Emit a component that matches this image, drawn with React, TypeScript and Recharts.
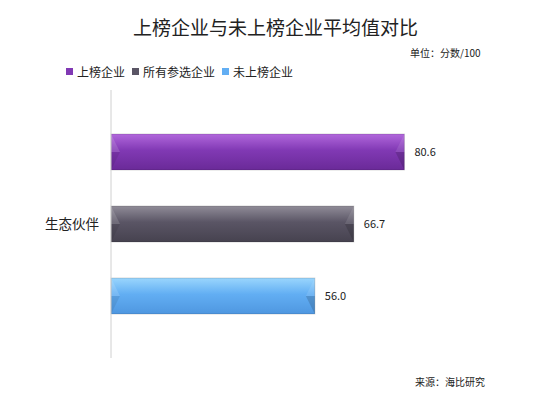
import React from "react";
import { BarChart, Bar, XAxis, YAxis, LabelList } from "recharts";

const categories = ["生态伙伴"];
const listedValues = [80.6];
const allValues = [66.7];
const unlistedValues = [56.0];
const seriesNames = ["上榜企业", "所有参选企业", "未上榜企业"];

const data = categories.map((name, i) => ({
  name,
  listed: listedValues[i],
  all: allValues[i],
  unlisted: unlistedValues[i],
}));

const FONT = '"Noto Sans CJK SC", "Microsoft YaHei", sans-serif';

const palette = [
  { id: "gListed", top: "#b167dc", mid: "#8139b4", bottom: "#6a2a98", key: "listed" },
  { id: "gAll", top: "#908c98", mid: "#5a5565", bottom: "#46424f", key: "all" },
  { id: "gUnlisted", top: "#9ad6fd", mid: "#62aef3", bottom: "#4f97e0", key: "unlisted" },
];

// flat bar with small bevelled ends, like the office 3D preset
const BevelBar = (props: any) => {
  const { x, y, width, height, fillId } = props;
  if (!width || width <= 0) return null;
  const b = Math.min(9, width / 4);
  const cy = y + height / 2;
  return (
    <g>
      <rect x={x} y={y} width={width} height={height} fill={`url(#${fillId})`} />
      <polygon points={`${x},${y} ${x + b},${cy} ${x},${cy}`} fill="#ffffff" opacity={0.14} />
      <polygon points={`${x},${cy} ${x + b},${cy} ${x},${y + height}`} fill="#000000" opacity={0.08} />
      <polygon points={`${x + width},${y} ${x + width - b},${cy} ${x + width},${cy}`} fill="#ffffff" opacity={0.1} />
      <polygon points={`${x + width},${cy} ${x + width - b},${cy} ${x + width},${y + height}`} fill="#000000" opacity={0.15} />
      <rect x={x} y={y} width={width} height={height} fill="none" stroke="#000" strokeOpacity={0.15} />
    </g>
  );
};

const renderTick = ({ y, payload }: any) => (
  <text x={99} y={y} dy={5} textAnchor="end" fill="#222" fontSize={13.5} fontFamily={FONT}>
    {payload?.value}
  </text>
);

const renderLabel = ({ x = 0, y = 0, width = 0, height = 0, value }: any) => (
  <text x={Number(x) + Number(width) + 10} y={Number(y) + Number(height) / 2 + 4} fill="#222" fontSize={11} fontFamily={FONT}>
    {Number(value).toFixed(1)}
  </text>
);

export default function App() {
  return (
    <div style={{ position: "absolute", left: 0, top: 0, width: 551, height: 401, background: "#fff", fontFamily: FONT }}>
      <div style={{ position: "absolute", top: 13, left: 0, width: 551, textAlign: "center", fontSize: 19, color: "#222" }}>
        上榜企业与未上榜企业平均值对比
      </div>
      <div style={{ position: "absolute", top: 45, left: 410, fontSize: 10, color: "#222" }}>单位：分数/100</div>
      <div style={{ position: "absolute", top: 63, left: 66, display: "flex", alignItems: "center", fontSize: 12, color: "#222" }}>
        {seriesNames.map((n, i) => (
          <span key={n} style={{ display: "flex", alignItems: "center", marginRight: 7 }}>
            <span style={{ width: 7, height: 7, background: palette[i].mid, marginRight: 4, display: "inline-block" }} />
            {n}
          </span>
        ))}
      </div>
      <div style={{ position: "absolute", top: 374, left: 415, fontSize: 10, color: "#222" }}>来源：海比研究</div>
      <BarChart
        width={551}
        height={401}
        data={data}
        layout="vertical"
        margin={{ top: 90, right: 76, bottom: 43, left: 0 }}
        barSize={36}
        barGap={36}
        style={{ position: "absolute", left: 0, top: 0 }}
      >
        <defs>
          {palette.map((p) => (
            <linearGradient key={p.id} id={p.id} x1="0" y1="0" x2="0" y2="1">
              <stop offset="0%" stopColor={p.top} />
              <stop offset="45%" stopColor={p.mid} />
              <stop offset="100%" stopColor={p.bottom} />
            </linearGradient>
          ))}
        </defs>
        <XAxis type="number" hide domain={[0, 100]} />
        <YAxis
          dataKey="name"
          type="category"
          width={111}
          axisLine={{ stroke: "#d0d0d0" }}
          tickLine={false}
          tick={renderTick}
        />
        {palette.map((p, i) => (
          <Bar
            key={p.key}
            dataKey={p.key}
            name={seriesNames[i]}
            isAnimationActive={false}
            shape={(props: any) => <BevelBar {...props} fillId={p.id} />}
          >
            <LabelList dataKey={p.key} content={renderLabel} />
          </Bar>
        ))}
      </BarChart>
    </div>
  );
}
